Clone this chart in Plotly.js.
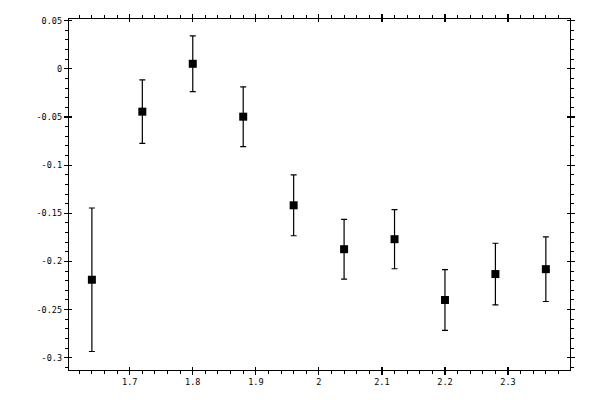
<!DOCTYPE html>
<html>
<head>
<meta charset="utf-8">
<script src="https://cdn.plot.ly/plotly-3.0.1.min.js"></script>
<style>
  html, body { margin: 0; padding: 0; background: #fff; }
  #chart { width: 600px; height: 400px; }
</style>
</head>
<body>
<div id="chart"></div>
<script>
// Measured points with symmetric errors
const xValues = [1.64, 1.72, 1.80, 1.88, 1.96, 2.04, 2.12, 2.20, 2.28, 2.36];
const yValues = [-0.219, -0.0445, 0.0052, -0.0497, -0.1417, -0.1873, -0.1769, -0.240, -0.2131, -0.208];
const yErrors = [0.0745, 0.033, 0.029, 0.031, 0.0316, 0.031, 0.0307, 0.0315, 0.032, 0.0336];

// Tick labels
const xTickVals = [1.7, 1.8, 1.9, 2.0, 2.1, 2.2, 2.3];
const xTickText = ['1.7', '1.8', '1.9', '2', '2.1', '2.2', '2.3'];
const yTickVals = [0.05, 0, -0.05, -0.1, -0.15, -0.2, -0.25, -0.3];
const yTickText = ['0.05', '0', '-0.05', '-0.1', '-0.15', '-0.2', '-0.25', '-0.3'];

const X_RANGE = [1.6037, 2.3983];
const Y_RANGE = [-0.3127, 0.0517];
const FONT = { family: 'DejaVu Sans Mono, monospace', size: 8.5, color: '#000' };

const points = {
    x: xValues,
    y: yValues,
    type: 'scatter',
    mode: 'markers',
    marker: { symbol: 'square', size: 8, color: '#000' },
    error_y: { type: 'data', array: yErrors, visible: true, color: '#000', thickness: 1.2, width: 3 },
    hoverinfo: 'x+y',
};

// empty trace so the overlay axes (inner half of the major ticks) get drawn
const innerTicks = { x: [], y: [], type: 'scatter', xaxis: 'x2', yaxis: 'y2', hoverinfo: 'skip' };

const baseAxis = {
    showgrid: false,
    zeroline: false,
    showline: true,
    linecolor: '#000',
    linewidth: 1.2,
    mirror: 'ticks',
    ticks: 'outside',
    ticklen: 4,
    tickwidth: 1.2,
    tickcolor: '#000',
    tickfont: FONT,
    tickmode: 'array',
};

const layout = {
    width: 600,
    height: 400,
    margin: { l: 69, r: 30, t: 19, b: 30 },
    paper_bgcolor: '#fff',
    plot_bgcolor: '#fff',
    showlegend: false,
    font: FONT,
    xaxis: {
        ...baseAxis,
        range: X_RANGE,
        tickvals: xTickVals,
        ticktext: xTickText,
        minor: { ticks: 'outside', ticklen: 3, tickwidth: 1, tickcolor: '#000', dtick: 0.02, tick0: 1.6 },
    },
    yaxis: {
        ...baseAxis,
        range: Y_RANGE,
        tickvals: yTickVals,
        ticktext: yTickText,
        minor: { ticks: 'outside', ticklen: 3, tickwidth: 1, tickcolor: '#000', dtick: 0.01, tick0: 0 },
    },
    xaxis2: {
        overlaying: 'x', anchor: 'y2', side: 'bottom',
        range: X_RANGE, tickmode: 'array', tickvals: xTickVals,
        ticks: 'inside', ticklen: 3, tickwidth: 1.2, tickcolor: '#000',
        mirror: 'ticks', showline: false, showgrid: false, zeroline: false, showticklabels: false,
    },
    yaxis2: {
        overlaying: 'y', anchor: 'x2', side: 'left',
        range: Y_RANGE, tickmode: 'array', tickvals: yTickVals,
        ticks: 'inside', ticklen: 3, tickwidth: 1.2, tickcolor: '#000',
        mirror: 'ticks', showline: false, showgrid: false, zeroline: false, showticklabels: false,
    },
};

Plotly.newPlot('chart', [points, innerTicks], layout, { staticPlot: true, displayModeBar: false });
</script>
</body>
</html>
